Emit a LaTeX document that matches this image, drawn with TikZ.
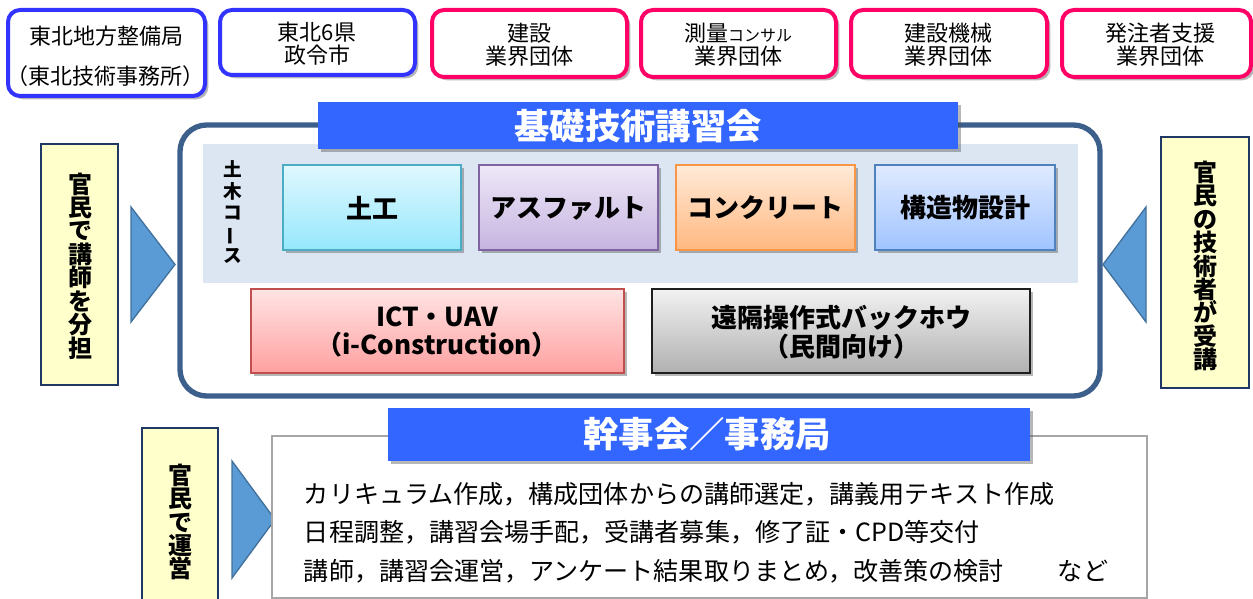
\documentclass[tikz,border=0pt]{standalone}
\usepackage{fontspec}
\setmainfont{Noto Sans CJK JP}
\usetikzlibrary{shadows}

\definecolor{govblue}{RGB}{51,51,255}
\definecolor{indpink}{RGB}{255,0,102}
\definecolor{framenavy}{RGB}{60,95,140}
\definecolor{bannerblue}{RGB}{51,102,255}
\definecolor{panelblue}{RGB}{220,230,242}
\definecolor{noteyellow}{RGB}{255,255,204}
\definecolor{noteedge}{RGB}{31,56,100}
\definecolor{trifill}{RGB}{91,155,213}
\definecolor{triedge}{RGB}{65,113,156}
\definecolor{dokouedge}{RGB}{75,172,198}
\definecolor{dokoutop}{RGB}{224,248,255}
\definecolor{dokoubot}{RGB}{150,232,252}
\definecolor{asphedge}{RGB}{128,100,162}
\definecolor{asphtop}{RGB}{238,232,248}
\definecolor{asphbot}{RGB}{198,180,224}
\definecolor{concedge}{RGB}{247,150,70}
\definecolor{conctop}{RGB}{255,234,216}
\definecolor{concbot}{RGB}{255,184,128}
\definecolor{kozoedge}{RGB}{79,129,189}
\definecolor{kozotop}{RGB}{224,234,255}
\definecolor{kozobot}{RGB}{160,196,255}
\definecolor{ictedge}{RGB}{192,80,77}
\definecolor{icttop}{RGB}{255,228,228}
\definecolor{ictbot}{RGB}{255,160,160}
\definecolor{remoteedge}{RGB}{30,30,30}
\definecolor{remotetop}{RGB}{242,242,242}
\definecolor{remotebot}{RGB}{176,176,176}

\newcommand\vstack{\fontsize{18pt}{17.6pt}\selectfont\bfseries\lineskiplimit=-20pt\relax}
\newcommand\vstacksmall{\fontsize{14pt}{16pt}\selectfont\bfseries\lineskiplimit=-20pt\relax}
\newcommand\vbar{\rotatebox[origin=c]{90}{ー}}

\tikzset{every picture/.style={line width=0.75pt}}
\tikzset{
  boxshadow/.style={drop shadow={shadow xshift=2.5pt,shadow yshift=-2.5pt,opacity=.4,fill=black!70}},
  govbox/.style={draw=govblue,line width=3pt,rounded corners=9pt,fill=white,boxshadow},
  indbox/.style={draw=indpink,line width=3pt,rounded corners=9pt,fill=white,boxshadow},
  orgtext/.style={align=center,font=\fontsize{16.5pt}{17.5pt}\selectfont},
  banner/.style={fill=bannerblue,draw=none,boxshadow},
  bannertext/.style={text=white,font=\fontsize{26.5pt}{28pt}\selectfont\bfseries},
  coursebox/.style={draw=#1edge,top color=#1top,bottom color=#1bot,line width=1.2pt,boxshadow},
  coursetext/.style={align=center,font=\fontsize{19.5pt}{21.5pt}\selectfont\bfseries},
  notebox/.style={draw=noteedge,fill=noteyellow,line width=1pt},
  vtext/.style={align=center,font=\vstack},
  tri/.style={draw=triedge,fill=trifill,line width=1pt},
  tasktext/.style={anchor=west,font=\fontsize{18.8pt}{20pt}\selectfont}
}

\begin{document}
\begin{tikzpicture}[x=0.75pt,y=0.75pt,yscale=-1,xscale=1]
	\useasboundingbox (0,0) rectangle (1253,599);

	%Organisations (top row)
	\draw [govbox] (8,10) rectangle (205,96);
	\node [orgtext] (kyoku) at (106,36) {東北地方整備局};
	\node [orgtext] (jimusho) at (106,76) {（東北技術事務所）};
	\draw [govbox] (220,10) rectangle (415,75);
	\node [orgtext] (kenshi) at (317,44) {東北6県\\政令市};
	\draw [indbox] (432,10) rectangle (627,77);
	\node [orgtext] (kensetsu) at (529,45) {建設\\業界団体};
	\draw [indbox] (641,10) rectangle (836,77);
	\node [orgtext] (sokuryo) at (738,45) {測量{\fontsize{12pt}{12pt}\selectfont コンサル}\\業界団体};
	\draw [indbox] (851,10) rectangle (1047,77);
	\node [orgtext] (kikai) at (948,45) {建設機械\\業界団体};
	\draw [indbox] (1062,10) rectangle (1251,77);
	\node [orgtext] (shien) at (1160,45) {発注者支援\\業界団体};

	%Frame of the course
	\draw [draw=framenavy,line width=4pt,rounded corners=20pt,fill=white] (180,125) rectangle (1100,396);
	\fill [panelblue] (203,144) rectangle (1078,283);
	\draw [banner] (318,102) rectangle (958,149);
	\node [bannertext] (kouza) at (638,126) {基礎技術講習会};
	\node [vtext,font=\vstacksmall] (doboku) at (233,212) {土\\木\\コ\\\vbar\\ス};

	%Courses
	\draw [coursebox=dokou] (283,165) rectangle (461,250);
	\node [coursetext] (dokou) at (372,208) {土工};
	\draw [coursebox=asph] (479,165) rectangle (658,250);
	\node [coursetext] (asphalt) at (568,208) {アスファルト};
	\draw [coursebox=conc] (676,165) rectangle (855,250);
	\node [coursetext] (concrete) at (765,208) {コンクリート};
	\draw [coursebox=kozo] (875,165) rectangle (1055,250);
	\node [coursetext] (kouzou) at (965,208) {構造物設計};
	\draw [coursebox=ict] (251,289) rectangle (624,373);
	\node [coursetext] (ict) at (437,332) {ICT・UAV\\（i-Construction）};
	\draw [coursebox=remote] (652,289) rectangle (1030,373);
	\node [coursetext] (enkaku) at (841,332) {遠隔操作式バックホウ\\（民間向け）};

	%Lecturers and trainees
	\draw [notebox] (41,144) rectangle (118,385);
	\node [vtext] (koushi) at (80,266) {官\\民\\で\\講\\師\\を\\分\\担};
	\draw [tri] (131,207) -- (175,264.5) -- (131,322) -- cycle;
	\draw [notebox] (1161,137) rectangle (1249,388);
	\node [vtext] (jukou) at (1205,266) {官\\民\\の\\技\\術\\者\\が\\受\\講};
	\draw [tri] (1146,207) -- (1103,264.5) -- (1146,322) -- cycle;

	%Secretariat
	\draw [notebox] (142,428) rectangle (218,610);
	\node [vtext] (unei) at (180,522) {官\\民\\で\\運\\営};
	\draw [tri] (232,461) -- (275,519.5) -- (232,578) -- cycle;
	\draw [draw=black!35,line width=1.5pt,fill=white] (272,436) rectangle (1147,598);
	\draw [banner] (388,408) rectangle (1030,461);
	\node [bannertext] (kanji) at (707,434) {幹事会／事務局};
	\node [tasktext] (task1) at (299,494) {カリキュラム作成，構成団体からの講師選定，講義用テキスト作成};
	\node [tasktext] (task2) at (299,532) {日程調整，講習会場手配，受講者募集，修了証・CPD等交付};
	\node [tasktext] (task3) at (299,571) {講師，講習会運営，アンケート結果取りまとめ，改善策の検討};
	\node [tasktext] (nado) at (1053,571) {など};

\end{tikzpicture}
\end{document}
